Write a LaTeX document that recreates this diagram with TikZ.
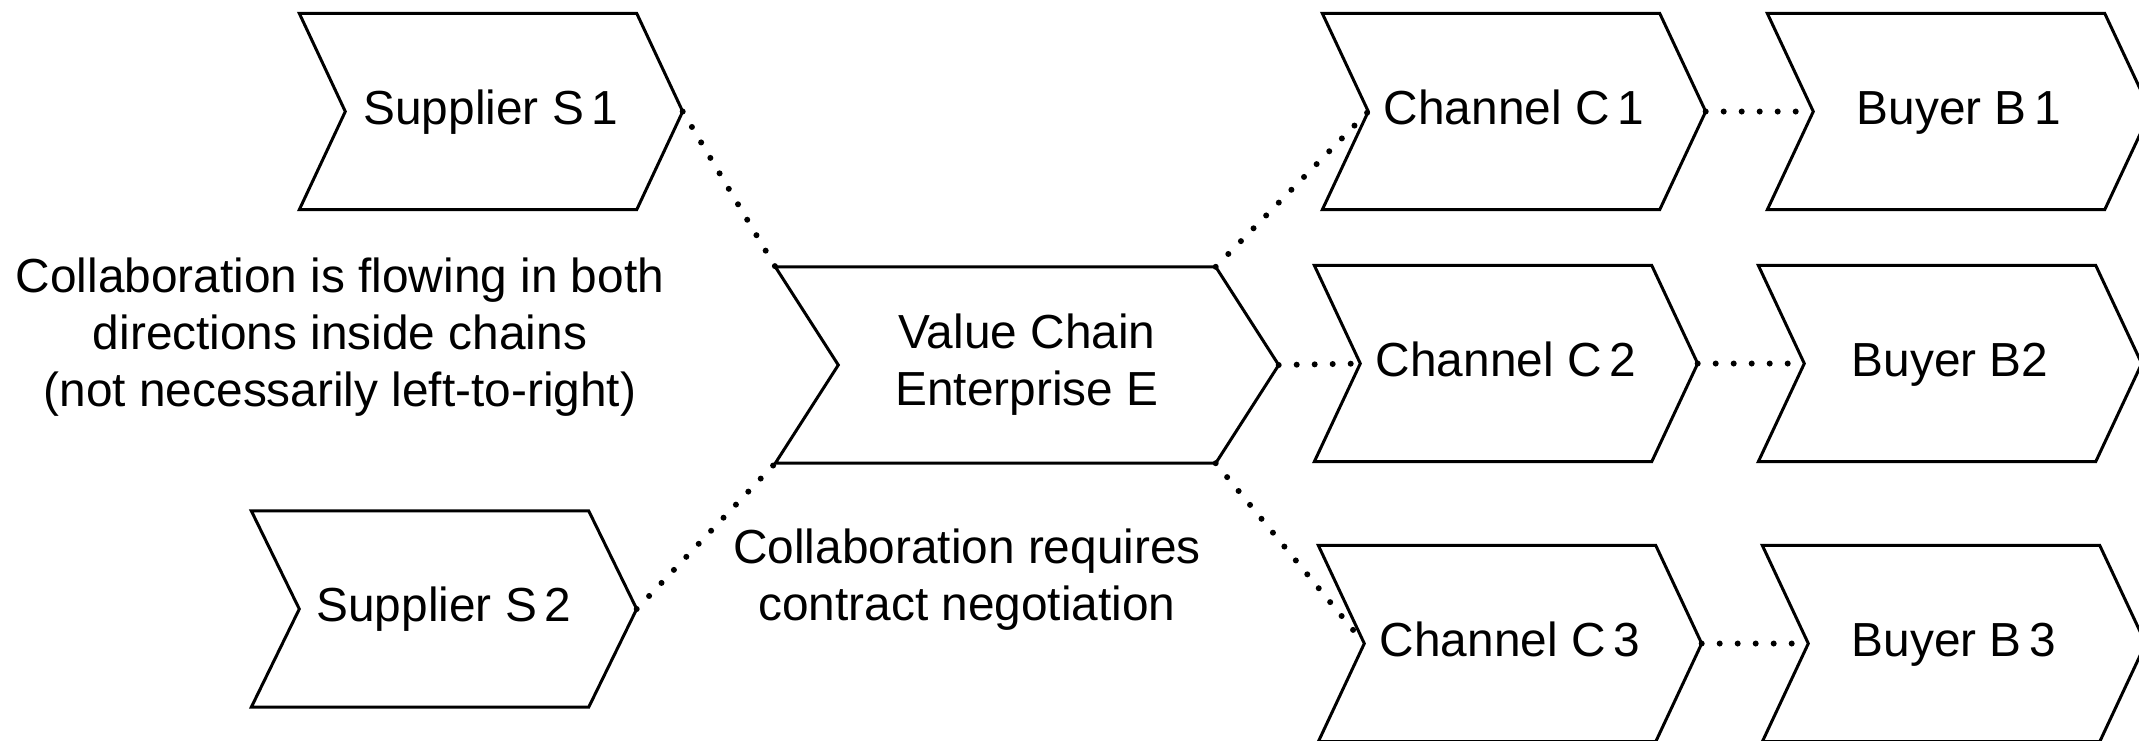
\documentclass[tikz,border=0pt]{standalone}
\usepackage{fontspec}
\setmainfont{Liberation Sans}
\begin{document}
\begin{tikzpicture}
[   x=0.1mm, y=-0.1mm,
    chev/.style={minimum width=#1,minimum height=19.5mm,inner sep=0pt,align=center,
        font=\fontsize{13.6}{16.2}\selectfont},
    oneline/.style={text height=0.95em,text depth=0.22em},
    chevline/.style={draw=black,line width=0.3mm,line join=miter},
    dotline/.style={line width=0.6mm,line cap=round,dash pattern=on 0pt off 1.8mm},
    note/.style={align=center,font=\fontsize{13.6}{16.2}\selectfont},
]
    \useasboundingbox (0,0) rectangle (2139,740);

%%%%%%%%%%%%%%%%%%%% SUPPLIERS %%%%%%%%%%%%%%%%%%%%%%%%%%%%%%%%%%%
    \node[chev=38.2mm,oneline] (s1) at (491,111.5) {Supplier S\,1};
    \node[chev=38.4mm,oneline] (s2) at (444,609) {Supplier S\,2};

%%%%%%%%%%%%%%%%%%%% ENTERPRISE %%%%%%%%%%%%%%%%%%%%%%%%%%%%%%%%%%%
    \node[chev=50.2mm] (e) at (1027,365) {Value Chain\\Enterprise E};

%%%%%%%%%%%%%%%%%%%% CHANNELS %%%%%%%%%%%%%%%%%%%%%%%%%%%%%%%%%%%
    \node[chev=38.2mm,oneline] (c1) at (1514,111.5) {Channel C\,1};
    \node[chev=38.2mm,oneline] (c2) at (1506,363.5) {Channel C\,2};
    \node[chev=38.2mm,oneline] (c3) at (1510,643.5) {Channel C\,3};

%%%%%%%%%%%%%%%%%%%% BUYERS %%%%%%%%%%%%%%%%%%%%%%%%%%%%%%%%%%%
    \node[chev=38.2mm,oneline] (b1) at (1959,111.5) {Buyer B\,1};
    \node[chev=38.2mm,oneline] (b2) at (1950,363.5) {Buyer B2};
    \node[chev=38.2mm,oneline] (b3) at (1954,643.5) {Buyer B\,3};

    % chevron outlines and their corner points
    \foreach \n/\d in {s1/4.6,s2/4.8,e/6.3,c1/4.6,c2/4.6,c3/4.6,b1/4.6,b2/4.6,b3/4.6}
    {
        \coordinate (\n-in) at ([xshift=\d mm]\n.west);
        \coordinate (\n-ne) at ([xshift=-\d mm]\n.north east);
        \coordinate (\n-se) at ([xshift=-\d mm]\n.south east);
        \draw[chevline] (\n.north west) -- (\n-ne) -- (\n.east) -- (\n-se)
            -- (\n.south west) -- (\n-in) -- cycle;
    }

%%%%%%%%%%%%%%%%%%%% LINKS %%%%%%%%%%%%%%%%%%%%%%%%%%%%%%%%%%%
    \draw[dotline] (s1.east) -- (e.north west);
    \draw[dotline] (s2.east) -- (e.south west);
    \draw[dotline] (e-ne) -- (c1-in);
    \draw[dotline] (e.east) -- (c2-in);
    \draw[dotline] (e-se) -- (c3-in);
    \foreach \k in {1,...,3}
    {
        \draw[dotline] (c\k.east) -- (b\k-in);
    }

%%%%%%%%%%%%%%%%%%%% NOTES %%%%%%%%%%%%%%%%%%%%%%%%%%%%%%%%%%%
    \node[note] (flow) at (340,337) {Collaboration is flowing in both\\directions inside chains\\(not necessarily left-to-right)};
    \node[note] (deal) at (967,580) {Collaboration requires\\contract negotiation};

\end{tikzpicture}
\end{document}
